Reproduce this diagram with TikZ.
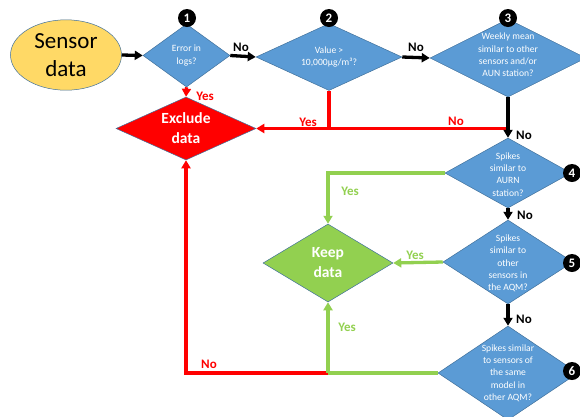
\documentclass[tikz,border=0pt]{standalone}
\usepackage{fontspec}
\setmainfont{Carlito}
\usetikzlibrary{shapes.geometric,arrows.meta}
\definecolor{dblue}{HTML}{5B9BD5}
\definecolor{dborder}{HTML}{41719C}
\definecolor{dgreen}{HTML}{92D050}
\definecolor{dred}{HTML}{FF0000}
\definecolor{dyellow}{HTML}{FFD966}
\tikzset{
  dia/.style={shape=diamond, draw=dborder, line width=0.5pt, inner sep=0pt, fill=dblue},
  qtext/.style={align=center, text=white, font=\fontsize{9.6}{12.3}\selectfont, inner sep=0pt},
  bigtext/.style={align=center, text=white, font=\fontsize{15.5}{20}\selectfont\bfseries, inner sep=0pt},
  numc/.style={circle, fill=black, minimum size=18pt, inner sep=0pt, text=white, font=\fontsize{13}{13}\selectfont\bfseries},
  lbl/.style={font=\fontsize{13}{13}\selectfont\bfseries, inner sep=0pt},
  con/.style={line width=3.3pt, -{Triangle[length=8pt,width=9pt]}},
  conl/.style={line width=3.3pt},
}
\begin{document}
\begin{tikzpicture}[x=1pt,y=-1pt]
\useasboundingbox (0,0) rectangle (580,416);
\clip (0,0) rectangle (580,416);
% shapes
\node[ellipse, draw=dborder, line width=0.5pt, fill=dyellow, minimum width=111pt, minimum height=66pt, align=center, font=\fontsize{23}{28}\selectfont] (sensor) at (66,55) {Sensor\\data};
\node[dia, minimum width=87pt, minimum height=63pt] (d1) at (186.5,55.5) {};
\node[qtext] (t1) at (d1) {Error in\\logs?};
\node[dia, minimum width=146pt, minimum height=67pt] (d2) at (329,57) {};
\node[qtext] (t2) at (d2) {Value >\\10,000µg/m³?};
\node[dia, minimum width=156pt, minimum height=78pt] (d3) at (508,58) {};
\node[qtext] (t3) at (508,55) {Weekly mean\\similar to other\\sensors and/or\\AUN station?};
\node[shape=diamond, draw=dborder, line width=0.5pt, inner sep=0pt, fill=dred, minimum width=140pt, minimum height=63pt] (excl) at (186,128.5) {};
\node[bigtext] (te) at (excl) {Exclude\\data};
\node[dia, minimum width=126pt, minimum height=70pt] (d4) at (508,173) {};
\node[qtext] (t4) at (508,174.5) {Spikes\\similar to\\AURN\\station?};
\node[dia, minimum width=130pt, minimum height=84pt] (d5) at (508,262) {};
\node[qtext] (t5) at (508,263.5) {Spikes\\similar to\\other\\sensors in\\the AQM?};
\node[dia, minimum width=140pt, minimum height=94pt] (d6) at (508,373) {};
\node[qtext] (t6) at (508,373) {Spikes similar\\to sensors of\\the same\\model in\\other AQM?};
\node[shape=diamond, draw=dborder, line width=0.5pt, inner sep=0pt, fill=dgreen, minimum width=130pt, minimum height=78pt] (keep) at (328,263) {};
\node[bigtext] (tk) at (keep) {Keep\\data};
% numbers
\node[numc] (n1) at (187,18) {1};
\node[numc] (n2) at (329,18) {2};
\node[numc] (n3) at (508,18) {3};
\node[numc] (n4) at (572,173) {4};
\node[numc] (n5) at (572,263) {5};
\node[numc] (n6) at (572,371) {6};
% junction coordinates
\coordinate (j3) at (d3.south |- excl.east);
\coordinate (j2) at (d2.south |- excl.east);
\coordinate (g4) at (keep.north |- d4.west);
\coordinate (g6) at (keep.south |- d6.west);
\coordinate (r6) at (excl.south |- d6.west);
% connectors
\draw[con, black] (sensor.east) -- (d1.west);
\draw[con, black] (d1.east) -- (d2.west);
\draw[con, black] (d2.east) -- (d3.west);
\draw[con, dred] (d1.south) -- (excl.north);
\draw[conl, dred] (d2.south) -- (j2);
\draw[con, dred] (j3) -- (excl.east);
\draw[con, black] (d3.south) -- (d4.north);
\draw[con, dgreen] (d4.west) -- (g4) -- (keep.north);
\draw[con, black] (d4.south) -- (d5.north);
\draw[con, dgreen] (d5.west) -- (keep.east);
\draw[con, black] (d5.south) -- (d6.north);
\draw[con, dred] (g6) -- (r6) -- (excl.south);
\draw[conl, dgreen] (d6.west) -- (g6);
\draw[con, dgreen] (g6) -- (keep.south);
% labels
\node[lbl, black] (l1) at (241,47) {No};
\node[lbl, black] (l2) at (416,47) {No};
\node[lbl, dred] (l3) at (205,96) {Yes};
\node[lbl, dred] (l4) at (308,122) {Yes};
\node[lbl, dred] (l5) at (456,121) {No};
\node[lbl, black] (l6) at (524,135) {No};
\node[lbl, dgreen] (l7) at (350,191) {Yes};
\node[lbl, black] (l8) at (525,215) {No};
\node[lbl, dgreen] (l9) at (415,255) {Yes};
\node[lbl, black] (l10) at (524,319) {No};
\node[lbl, dgreen] (l11) at (347,327) {Yes};
\node[lbl, dred] (l12) at (209,364) {No};
\end{tikzpicture}
\end{document}
